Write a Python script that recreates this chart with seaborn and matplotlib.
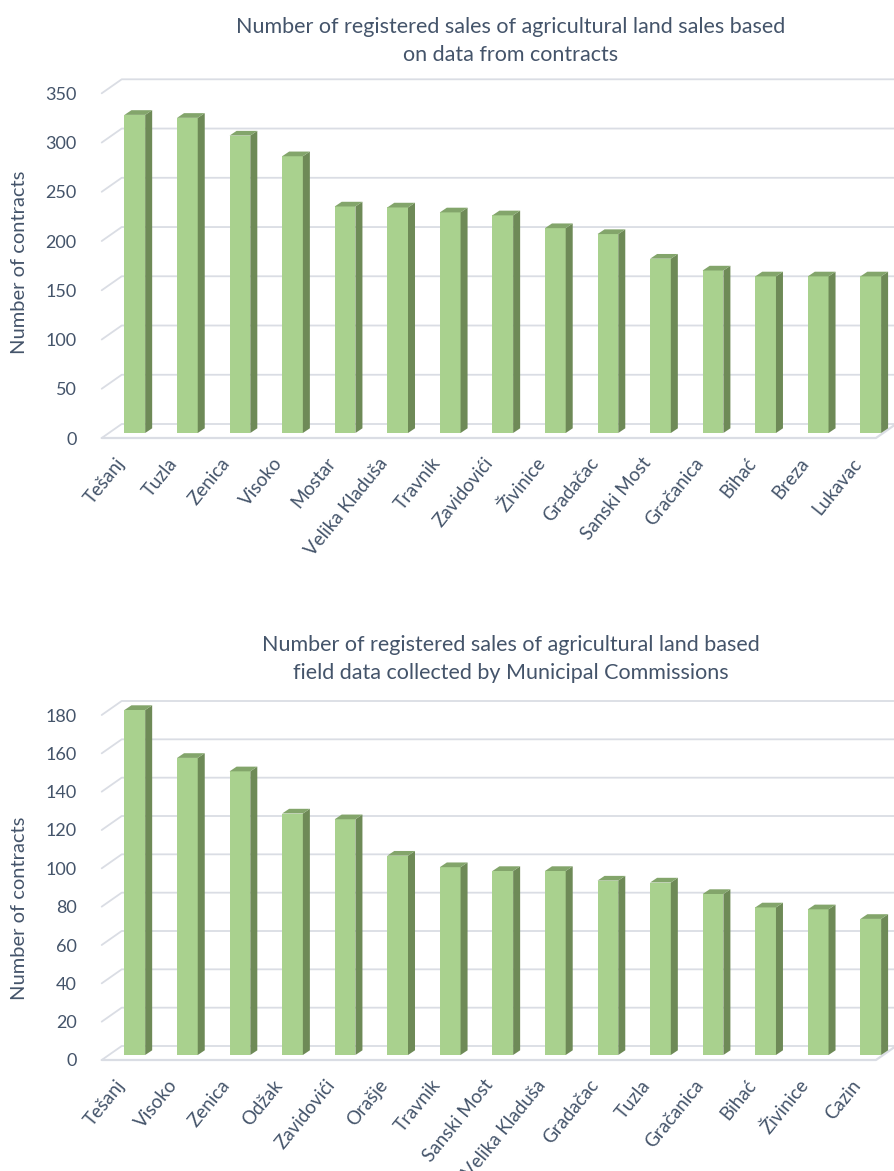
import matplotlib
matplotlib.use('Agg')
import matplotlib.pyplot as plt
import matplotlib.transforms as mtransforms
from matplotlib.patches import Polygon
import seaborn as sns
import pandas as pd

# data
contract_towns = ['Tešanj', 'Tuzla', 'Zenica', 'Visoko', 'Mostar', 'Velika Kladuša', 'Travnik',
                  'Zavidovići', 'Živinice', 'Gradačac', 'Sanski Most', 'Gračanica', 'Bihać',
                  'Breza', 'Lukavac']
contract_counts = [323, 320, 302, 281, 230, 229, 224, 221, 208, 202, 177, 165, 159, 159, 159]

field_towns = ['Tešanj', 'Visoko', 'Zenica', 'Odžak', 'Zavidovići', 'Orašje', 'Travnik',
               'Sanski Most', 'Velika Kladuša', 'Gradačac', 'Tuzla', 'Gračanica', 'Bihać',
               'Živinice', 'Cazin']
field_counts = [180, 155, 148, 126, 123, 104, 98, 96, 96, 91, 90, 84, 77, 76, 71]

title_top = 'Number of registered sales of agricultural land sales based\non data from contracts'
title_bottom = ('Number of registered sales of agricultural land based\n'
                'field data collected by Municipal Commissions')
y_label = 'Number of contracts'

FRONT = '#A9D18E'
SIDE = '#6E8A57'
TOP = '#83A56B'
GRID = '#DADDE4'
TEXT = '#44546A'

W, H, DPI = 895, 1171, 100

sns.set_theme(style='white')
plt.rcParams['font.family'] = ['Lato', 'DejaVu Sans']

fig = plt.figure(figsize=(W / DPI, H / DPI), dpi=DPI)


def draw_panel(rect_px, towns, counts, ymax, step, title, title_y, ylab_pos):
    left, top, right, bottom = rect_px
    ax = fig.add_axes([left / W, (H - bottom) / H, (right - left) / W, (bottom - top) / H])
    df = pd.DataFrame({'town': towns, 'count': counts})
    sns.barplot(data=df, x='town', y='count', color=FRONT, saturation=1, width=0.394,
                linewidth=0, ax=ax, zorder=3)
    n = len(towns)
    x0, x1 = -0.63, n - 1 + 0.1
    ax.set_xlim(x0, x1)
    ax.set_ylim(0, ymax)

    ppx = (right - left) / (x1 - x0)   # pixels per category
    ppy = (bottom - top) / ymax        # pixels per unit

    # back wall gridlines with the 3d slant
    gx, gy = 20 / ppx, 14 / ppy
    for v in range(0, ymax + 1, step):
        ax.plot([x0, x0 + gx, x1 + gx], [v, v + gy, v + gy], color=GRID, lw=1.3,
                clip_on=False, zorder=1)
    ax.plot([x0, x1, x1 + gx], [0, 0, gy], color=GRID, lw=1.6, clip_on=False, zorder=1)

    # fake depth for the bars
    lift = 5 / ppy
    dx, dy = 7 / ppx, 4.7 / ppy
    for p in list(ax.patches):
        bx, bw, bh = p.get_x(), p.get_width(), p.get_height()
        p.set_y(lift)
        p.set_clip_on(False)
        side = [(bx + bw, lift), (bx + bw + dx, lift + dy), (bx + bw + dx, bh + lift + dy),
                (bx + bw, bh + lift)]
        cap = [(bx, bh + lift), (bx + dx, bh + lift + dy), (bx + bw + dx, bh + lift + dy),
               (bx + bw, bh + lift)]
        ax.add_patch(Polygon(side, closed=True, fc=SIDE, ec='none', zorder=3, clip_on=False))
        ax.add_patch(Polygon(cap, closed=True, fc=TOP, ec='none', zorder=3, clip_on=False))

    ax.set_yticks(range(0, ymax + 1, step))
    ax.tick_params(axis='y', left=False, labelsize=13, labelcolor=TEXT, pad=12)
    ax.set_xticks([])
    ax.set_xlabel('')
    ax.set_ylabel(y_label, fontsize=14.5, color=TEXT)
    ax.yaxis.set_label_coords((28 - left) / (right - left), ylab_pos)
    sns.despine(ax=ax, left=True, bottom=True)

    # rotated category labels
    lab_tr = mtransforms.blended_transform_factory(ax.transData, ax.transAxes) + \
        mtransforms.ScaledTranslation(-13 / DPI, -22 / DPI, fig.dpi_scale_trans)
    for i, town in enumerate(towns):
        ax.text(i, 0, town, rotation=51, ha='right', va='center', rotation_mode='anchor',
                transform=lab_tr, fontsize=13.5, color=TEXT)

    fig.text(511 / W, 1 - title_y / H, title, ha='center', va='center', fontsize=15.5,
             color=TEXT, linespacing=1.5)
    return ax


draw_panel((101.7, 93.3, 876, 438), contract_towns, contract_counts, 350, 50,
           title_top, 41, 0.51)
draw_panel((101.7, 715, 876, 1060), field_towns, field_counts, 180, 20,
           title_bottom, 659, 0.44)

fig.savefig('out.png', dpi=DPI, facecolor='white')
